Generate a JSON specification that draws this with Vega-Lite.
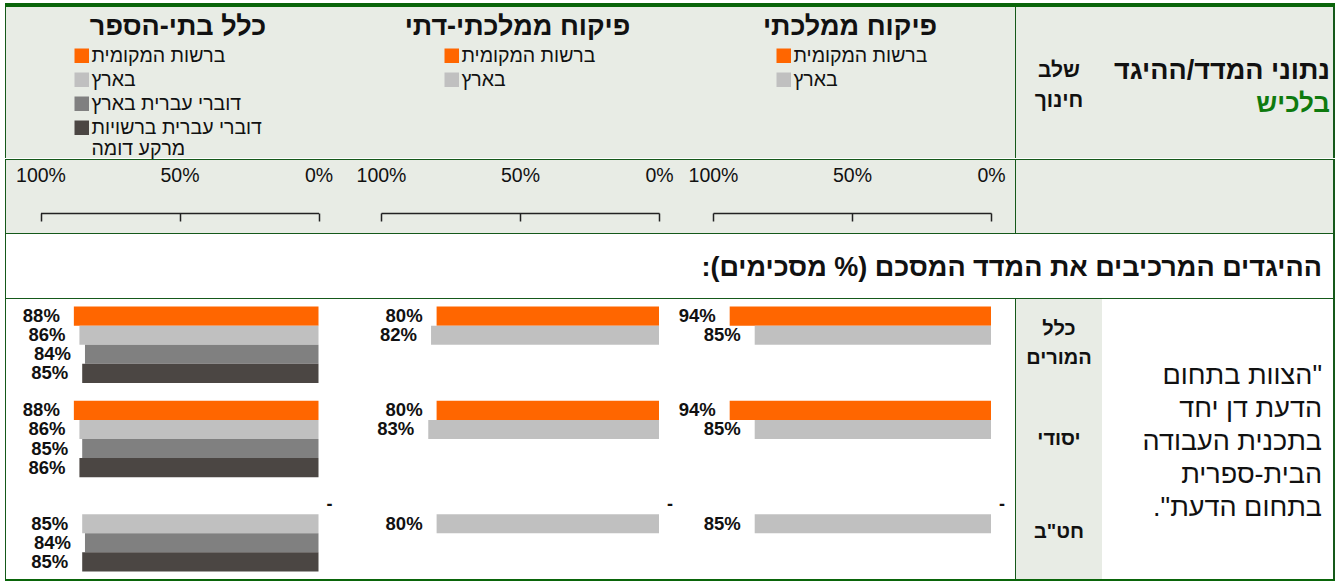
{
  "$schema": "https://vega.github.io/schema/vega-lite/v6.json",
  "background": "#FFFFFF",
  "padding": {"left": 5, "top": 3, "right": 1, "bottom": 0},
  "spacing": 0,
  "config": {
    "font": "Liberation Sans",
    "view": {"stroke": null},
    "title": {"font": "Liberation Sans", "color": "#111111"},
    "axis": {"labelFont": "Liberation Sans"},
    "legend": {"labelFont": "Liberation Sans"},
    "text": {"font": "Liberation Sans"}
  },
  "datasets": {
    "bars": [
      {"panel": "כלל בתי-הספר", "stage": "כלל המורים", "series": "ברשות המקומית", "value": 0.88},
      {"panel": "כלל בתי-הספר", "stage": "כלל המורים", "series": "בארץ", "value": 0.86},
      {"panel": "כלל בתי-הספר", "stage": "כלל המורים", "series": "דוברי עברית בארץ", "value": 0.84},
      {"panel": "כלל בתי-הספר", "stage": "כלל המורים", "series": "דוברי עברית ברשויות מרקע דומה", "value": 0.85},
      {"panel": "כלל בתי-הספר", "stage": "יסודי", "series": "ברשות המקומית", "value": 0.88},
      {"panel": "כלל בתי-הספר", "stage": "יסודי", "series": "בארץ", "value": 0.86},
      {"panel": "כלל בתי-הספר", "stage": "יסודי", "series": "דוברי עברית בארץ", "value": 0.85},
      {"panel": "כלל בתי-הספר", "stage": "יסודי", "series": "דוברי עברית ברשויות מרקע דומה", "value": 0.86},
      {"panel": "כלל בתי-הספר", "stage": "חט\"ב", "series": "ברשות המקומית", "value": null},
      {"panel": "כלל בתי-הספר", "stage": "חט\"ב", "series": "בארץ", "value": 0.85},
      {"panel": "כלל בתי-הספר", "stage": "חט\"ב", "series": "דוברי עברית בארץ", "value": 0.84},
      {"panel": "כלל בתי-הספר", "stage": "חט\"ב", "series": "דוברי עברית ברשויות מרקע דומה", "value": 0.85},
      {"panel": "פיקוח ממלכתי-דתי", "stage": "כלל המורים", "series": "ברשות המקומית", "value": 0.80},
      {"panel": "פיקוח ממלכתי-דתי", "stage": "כלל המורים", "series": "בארץ", "value": 0.82},
      {"panel": "פיקוח ממלכתי-דתי", "stage": "יסודי", "series": "ברשות המקומית", "value": 0.80},
      {"panel": "פיקוח ממלכתי-דתי", "stage": "יסודי", "series": "בארץ", "value": 0.83},
      {"panel": "פיקוח ממלכתי-דתי", "stage": "חט\"ב", "series": "ברשות המקומית", "value": null},
      {"panel": "פיקוח ממלכתי-דתי", "stage": "חט\"ב", "series": "בארץ", "value": 0.80},
      {"panel": "פיקוח ממלכתי", "stage": "כלל המורים", "series": "ברשות המקומית", "value": 0.94},
      {"panel": "פיקוח ממלכתי", "stage": "כלל המורים", "series": "בארץ", "value": 0.85},
      {"panel": "פיקוח ממלכתי", "stage": "יסודי", "series": "ברשות המקומית", "value": 0.94},
      {"panel": "פיקוח ממלכתי", "stage": "יסודי", "series": "בארץ", "value": 0.85},
      {"panel": "פיקוח ממלכתי", "stage": "חט\"ב", "series": "ברשות המקומית", "value": null},
      {"panel": "פיקוח ממלכתי", "stage": "חט\"ב", "series": "בארץ", "value": 0.85}
    ],
    "stages": [
      {"stage": "כלל המורים"},
      {"stage": "יסודי"},
      {"stage": "חט\"ב"}
    ],
    "none": []
  },
  "resolve": {
    "scale": {"x": "independent", "y": "independent", "yOffset": "independent", "color": "independent"},
    "legend": {"color": "independent"},
    "axis": {"x": "independent", "y": "independent"}
  },
  "vconcat": [
    {"width": 1330, "height": 4, "view": {"fill": "#0A650A"}, "data": {"name": "none"}, "mark": "text", "encoding": {}},
    {
      "spacing": 0,
      "resolve": {
        "scale": {"x": "independent", "color": "independent"},
        "legend": {"color": "independent"}
      },
      "hconcat": [
        {"width": 1, "height": 151, "view": {"fill": "#15591A"}, "data": {"name": "none"}, "mark": "text", "encoding": {}},
        {
          "width": 344, "height": 151,
          "view": {"fill": "#E8ECE5"},
          "title": {"text": "כלל בתי-הספר", "frame": "group", "anchor": "middle", "orient": "top", "offset": -33.5,
                    "fontSize": 27, "fontWeight": "bold", "color": "#111111"},
          "data": {"name": "none"},
          "mark": "bar",
          "encoding": {
            "color": {"field": "series", "type": "nominal",
                      "scale": {"domain": ["ברשות המקומית", "בארץ", "דוברי עברית בארץ", "דוברי עברית ברשויות מרקע דומה"],
                                "range": ["#FF6600", "#C0C0C0", "#808080", "#4B4643"]},
                      "legend": {"orient": "none", "legendX": 66, "legendY": 39, "title": null, "symbolType": "square",
                                 "symbolSize": 210, "symbolStrokeWidth": 0, "labelFontSize": 19.5, "labelColor": "#111111",
                                 "rowPadding": 3, "labelOffset": 0, "labelLimit": 400,
                                 "labelExpr": "datum.label === 'דוברי עברית ברשויות מרקע דומה' ? ['דוברי עברית ברשויות', 'מרקע דומה'] : datum.label"}}
          }
        },
        {
          "width": 335, "height": 151,
          "view": {"fill": "#E8ECE5"},
          "title": {"text": "פיקוח ממלכתי-דתי", "frame": "group", "anchor": "middle", "orient": "top", "offset": -33.5,
                    "fontSize": 27, "fontWeight": "bold", "color": "#111111"},
          "data": {"name": "none"},
          "mark": "bar",
          "encoding": {
            "color": {"field": "series", "type": "nominal",
                      "scale": {"domain": ["ברשות המקומית", "בארץ"], "range": ["#FF6600", "#C0C0C0"]},
                      "legend": {"orient": "none", "legendX": 92, "legendY": 39, "title": null, "symbolType": "square",
                                 "symbolSize": 210, "symbolStrokeWidth": 0, "labelFontSize": 19.5, "labelColor": "#111111",
                                 "rowPadding": 3, "labelOffset": 0, "labelLimit": 400}}
          }
        },
        {
          "width": 330, "height": 151,
          "view": {"fill": "#E8ECE5"},
          "title": {"text": "פיקוח ממלכתי", "frame": "group", "anchor": "middle", "orient": "top", "offset": -33.5,
                    "fontSize": 27, "fontWeight": "bold", "color": "#111111"},
          "data": {"name": "none"},
          "mark": "bar",
          "encoding": {
            "color": {"field": "series", "type": "nominal",
                      "scale": {"domain": ["ברשות המקומית", "בארץ"], "range": ["#FF6600", "#C0C0C0"]},
                      "legend": {"orient": "none", "legendX": 89, "legendY": 39, "title": null, "symbolType": "square",
                                 "symbolSize": 210, "symbolStrokeWidth": 0, "labelFontSize": 19.5, "labelColor": "#111111",
                                 "rowPadding": 3, "labelOffset": 0, "labelLimit": 400}}
          }
        },
        {"width": 1, "height": 151, "view": {"fill": "#15591A"}, "data": {"name": "none"}, "mark": "text", "encoding": {}},
        {
          "width": 86, "height": 151,
          "view": {"fill": "#E8ECE5"},
          "title": {"text": ["שלב", "חינוך"], "frame": "group", "anchor": "middle", "orient": "top", "offset": -103.5,
                    "fontSize": 21, "fontWeight": "bold", "lineHeight": 30, "color": "#111111"},
          "data": {"name": "none"}, "mark": "text", "encoding": {}
        },
        {
          "width": 231, "height": 151,
          "view": {"fill": "#E8ECE5"},
          "title": {
            "text": "נתוני המדד/ההיגד", "subtitle": "בלכיש",
            "frame": "group", "anchor": "end", "orient": "top", "offset": -111, "dx": -3,
            "fontSize": 27, "fontWeight": "bold", "color": "#111111",
            "subtitleFontSize": 26, "subtitleFontWeight": "bold", "subtitleColor": "#0E7A0E",
            "subtitlePadding": 6, "subtitleFont": "Liberation Sans"
          },
          "data": {"name": "none"}, "mark": "text", "encoding": {}
        },
        {"width": 2, "height": 151, "view": {"fill": "#15591A"}, "data": {"name": "none"}, "mark": "text", "encoding": {}}
      ]
    },
    {"width": 1330, "height": 1, "view": {"fill": "#15591A"}, "data": {"name": "none"}, "mark": "text", "encoding": {}},
    {
      "spacing": 0,
      "resolve": {"scale": {"x": "independent"}, "axis": {"x": "independent"}},
      "hconcat": [
        {"width": 1, "height": 73, "view": {"fill": "#15591A"}, "data": {"name": "none"}, "mark": "text", "encoding": {}},
        {
          "width": 344, "height": 73,
          "view": {"fill": "#E8ECE5"},
          "data": {"name": "none"},
          "mark": "tick",
          "encoding": {
            "x": {"field": "value", "type": "quantitative",
                  "scale": {"domain": [0, 1], "range": [312.5, 34.5], "nice": false},
                  "axis": {"orient": "top", "offset": -53, "values": [0, 0.5, 1], "format": ".0%", "title": null, "grid": false,
                           "domainColor": "#222222", "domainWidth": 1.5, "tickColor": "#222222", "tickWidth": 1.5, "tickSize": -8,
                           "labelPadding": 36, "labelFontSize": 19.5, "labelColor": "#111111", "labelFlush": false}}
          }
        },
        {
          "width": 335, "height": 73,
          "view": {"fill": "#E8ECE5"},
          "data": {"name": "none"},
          "mark": "tick",
          "encoding": {
            "x": {"field": "value", "type": "quantitative",
                  "scale": {"domain": [0, 1], "range": [309, 31], "nice": false},
                  "axis": {"orient": "top", "offset": -53, "values": [0, 0.5, 1], "format": ".0%", "title": null, "grid": false,
                           "domainColor": "#222222", "domainWidth": 1.5, "tickColor": "#222222", "tickWidth": 1.5, "tickSize": -8,
                           "labelPadding": 36, "labelFontSize": 19.5, "labelColor": "#111111", "labelFlush": false}}
          }
        },
        {
          "width": 330, "height": 73,
          "view": {"fill": "#E8ECE5"},
          "data": {"name": "none"},
          "mark": "tick",
          "encoding": {
            "x": {"field": "value", "type": "quantitative",
                  "scale": {"domain": [0, 1], "range": [306, 28], "nice": false},
                  "axis": {"orient": "top", "offset": -53, "values": [0, 0.5, 1], "format": ".0%", "title": null, "grid": false,
                           "domainColor": "#222222", "domainWidth": 1.5, "tickColor": "#222222", "tickWidth": 1.5, "tickSize": -8,
                           "labelPadding": 36, "labelFontSize": 19.5, "labelColor": "#111111", "labelFlush": false}}
          }
        },
        {"width": 1, "height": 73, "view": {"fill": "#15591A"}, "data": {"name": "none"}, "mark": "text", "encoding": {}},
        {"width": 317, "height": 73, "view": {"fill": "#E8ECE5"}, "data": {"name": "none"}, "mark": "text", "encoding": {}},
        {"width": 2, "height": 73, "view": {"fill": "#15591A"}, "data": {"name": "none"}, "mark": "text", "encoding": {}}
      ]
    },
    {"width": 1330, "height": 1, "view": {"fill": "#15591A"}, "data": {"name": "none"}, "mark": "text", "encoding": {}},
    {
      "spacing": 0,
      "hconcat": [
        {"width": 1, "height": 64, "view": {"fill": "#15591A"}, "data": {"name": "none"}, "mark": "text", "encoding": {}},
        {
          "width": 1327, "height": 64,
          "view": {"fill": "#FFFFFF"},
          "title": {
            "text": "‏ההיגדים המרכיבים את המדד המסכם (% מסכימים):‏",
            "frame": "group", "anchor": "end", "orient": "top", "offset": -47.5, "dx": -11,
            "fontSize": 27, "fontWeight": "bold", "color": "#111111"
          },
          "data": {"name": "none"}, "mark": "text", "encoding": {}
        },
        {"width": 2, "height": 64, "view": {"fill": "#15591A"}, "data": {"name": "none"}, "mark": "text", "encoding": {}}
      ]
    },
    {"width": 1330, "height": 1, "view": {"fill": "#15591A"}, "data": {"name": "none"}, "mark": "text", "encoding": {}},
    {
      "spacing": 0,
      "resolve": {
        "scale": {"x": "independent", "y": "independent", "yOffset": "independent", "color": "independent"},
        "legend": {"color": "independent"}
      },
      "hconcat": [
        {"width": 1, "height": 280, "view": {"fill": "#15591A"}, "data": {"name": "none"}, "mark": "text", "encoding": {}},
        {
          "width": 344, "height": 280,
          "view": {"fill": "#FFFFFF"},
          "data": {"name": "bars"},
          "transform": [{"filter": "datum.panel === 'כלל בתי-הספר'"}],
          "encoding": {
            "y": {"field": "stage", "type": "nominal", "axis": null,
                  "scale": {"domain": ["כלל המורים", "יסודי", "חט\"ב"], "paddingInner": 0.19, "paddingOuter": 0.08}},
            "yOffset": {"field": "series", "type": "nominal",
                  "scale": {"domain": ["ברשות המקומית", "בארץ", "דוברי עברית בארץ", "דוברי עברית ברשויות מרקע דומה"], "paddingInner": 0, "paddingOuter": 0}}
          },
          "layer": [
            {
              "mark": {"type": "bar"},
              "encoding": {
                "x": {"field": "value", "type": "quantitative", "axis": null,
                      "scale": {"domain": [0, 1], "range": [312.5, 34.5], "nice": false}},
                "color": {"field": "series", "type": "nominal", "legend": null,
                      "scale": {"domain": ["ברשות המקומית", "בארץ", "דוברי עברית בארץ", "דוברי עברית ברשויות מרקע דומה"],
                                "range": ["#FF6600", "#C0C0C0", "#808080", "#4B4643"]}}
              }
            },
            {
              "transform": [{"filter": "datum.value !== null"}],
              "mark": {"type": "text", "align": "right", "baseline": "middle", "dx": -14, "fontSize": 18.5, "fontWeight": "bold", "color": "#111111"},
              "encoding": {
                "x": {"field": "value", "type": "quantitative"},
                "text": {"field": "value", "type": "quantitative", "format": ".0%"}
              }
            },
            {
              "transform": [{"filter": "datum.value === null"}],
              "mark": {"type": "text", "text": "-", "align": "left", "baseline": "middle", "dx": 8, "fontSize": 18, "fontWeight": "bold", "color": "#111111"},
              "encoding": {"x": {"datum": 0}}
            }
          ]
        },
        {
          "width": 327, "height": 280,
          "view": {"fill": "#FFFFFF"},
          "data": {"name": "bars"},
          "transform": [{"filter": "datum.panel === 'פיקוח ממלכתי-דתי'"}],
          "encoding": {
            "y": {"field": "stage", "type": "nominal", "axis": null,
                  "scale": {"domain": ["כלל המורים", "יסודי", "חט\"ב"], "paddingInner": 0.19, "paddingOuter": 0.08}},
            "yOffset": {"field": "series", "type": "nominal",
                  "scale": {"domain": ["ברשות המקומית", "בארץ", "דוברי עברית בארץ", "דוברי עברית ברשויות מרקע דומה"], "paddingInner": 0, "paddingOuter": 0}}
          },
          "layer": [
            {
              "mark": {"type": "bar"},
              "encoding": {
                "x": {"field": "value", "type": "quantitative", "axis": null,
                      "scale": {"domain": [0, 1], "range": [309, 31], "nice": false}},
                "color": {"field": "series", "type": "nominal", "legend": null,
                      "scale": {"domain": ["ברשות המקומית", "בארץ"], "range": ["#FF6600", "#C0C0C0"]}}
              }
            },
            {
              "transform": [{"filter": "datum.value !== null"}],
              "mark": {"type": "text", "align": "right", "baseline": "middle", "dx": -14, "fontSize": 18.5, "fontWeight": "bold", "color": "#111111"},
              "encoding": {
                "x": {"field": "value", "type": "quantitative"},
                "text": {"field": "value", "type": "quantitative", "format": ".0%"}
              }
            },
            {
              "transform": [{"filter": "datum.value === null"}],
              "mark": {"type": "text", "text": "-", "align": "left", "baseline": "middle", "dx": 8, "fontSize": 18, "fontWeight": "bold", "color": "#111111"},
              "encoding": {"x": {"datum": 0}}
            }
          ]
        },
        {
          "width": 338, "height": 280,
          "view": {"fill": "#FFFFFF"},
          "data": {"name": "bars"},
          "transform": [{"filter": "datum.panel === 'פיקוח ממלכתי'"}],
          "encoding": {
            "y": {"field": "stage", "type": "nominal", "axis": null,
                  "scale": {"domain": ["כלל המורים", "יסודי", "חט\"ב"], "paddingInner": 0.19, "paddingOuter": 0.08}},
            "yOffset": {"field": "series", "type": "nominal",
                  "scale": {"domain": ["ברשות המקומית", "בארץ", "דוברי עברית בארץ", "דוברי עברית ברשויות מרקע דומה"], "paddingInner": 0, "paddingOuter": 0}}
          },
          "layer": [
            {
              "mark": {"type": "bar"},
              "encoding": {
                "x": {"field": "value", "type": "quantitative", "axis": null,
                      "scale": {"domain": [0, 1], "range": [314, 36], "nice": false}},
                "color": {"field": "series", "type": "nominal", "legend": null,
                      "scale": {"domain": ["ברשות המקומית", "בארץ"], "range": ["#FF6600", "#C0C0C0"]}}
              }
            },
            {
              "transform": [{"filter": "datum.value !== null"}],
              "mark": {"type": "text", "align": "right", "baseline": "middle", "dx": -14, "fontSize": 18.5, "fontWeight": "bold", "color": "#111111"},
              "encoding": {
                "x": {"field": "value", "type": "quantitative"},
                "text": {"field": "value", "type": "quantitative", "format": ".0%"}
              }
            },
            {
              "transform": [{"filter": "datum.value === null"}],
              "mark": {"type": "text", "text": "-", "align": "left", "baseline": "middle", "dx": 8, "fontSize": 18, "fontWeight": "bold", "color": "#111111"},
              "encoding": {"x": {"datum": 0}}
            }
          ]
        },
        {"width": 1, "height": 280, "view": {"fill": "#15591A"}, "data": {"name": "none"}, "mark": "text", "encoding": {}},
        {
          "width": 86, "height": 280,
          "view": {"fill": "#E8ECE5"},
          "data": {"name": "stages"},
          "encoding": {
            "y": {"field": "stage", "type": "nominal", "axis": null,
                  "scale": {"domain": ["כלל המורים", "יסודי", "חט\"ב"], "paddingInner": 0.19, "paddingOuter": 0.08}},
            "text": {"field": "stage"}
          },
          "layer": [
            {
              "transform": [{"filter": "indexof(datum.stage, ' ') < 0"}],
              "mark": {"type": "text", "fontSize": 20, "fontWeight": "bold", "color": "#111111", "baseline": "middle"}
            },
            {
              "transform": [{"filter": "indexof(datum.stage, ' ') >= 0"}],
              "mark": {"type": "text", "fontSize": 20, "fontWeight": "bold", "lineBreak": " ", "lineHeight": 29, "dy": -17, "color": "#111111", "baseline": "middle"}
            }
          ]
        },
        {
          "width": 231, "height": 280,
          "view": {"fill": "#FFFFFF"},
          "title": {
            "text": ["‏\"הצוות בתחום", "הדעת דן יחד", "בתכנית העבודה", "הבית-ספרית", "בתחום הדעת\".‏"],
            "frame": "group", "anchor": "end", "orient": "top", "offset": -222.5, "dx": -11,
            "fontSize": 27, "fontWeight": "normal", "lineHeight": 33, "color": "#111111"
          },
          "data": {"name": "none"}, "mark": "text", "encoding": {}
        },
        {"width": 2, "height": 280, "view": {"fill": "#15591A"}, "data": {"name": "none"}, "mark": "text", "encoding": {}}
      ]
    },
    {"width": 1330, "height": 3, "view": {"fill": "#0A650A"}, "data": {"name": "none"}, "mark": "text", "encoding": {}}
  ]
}
